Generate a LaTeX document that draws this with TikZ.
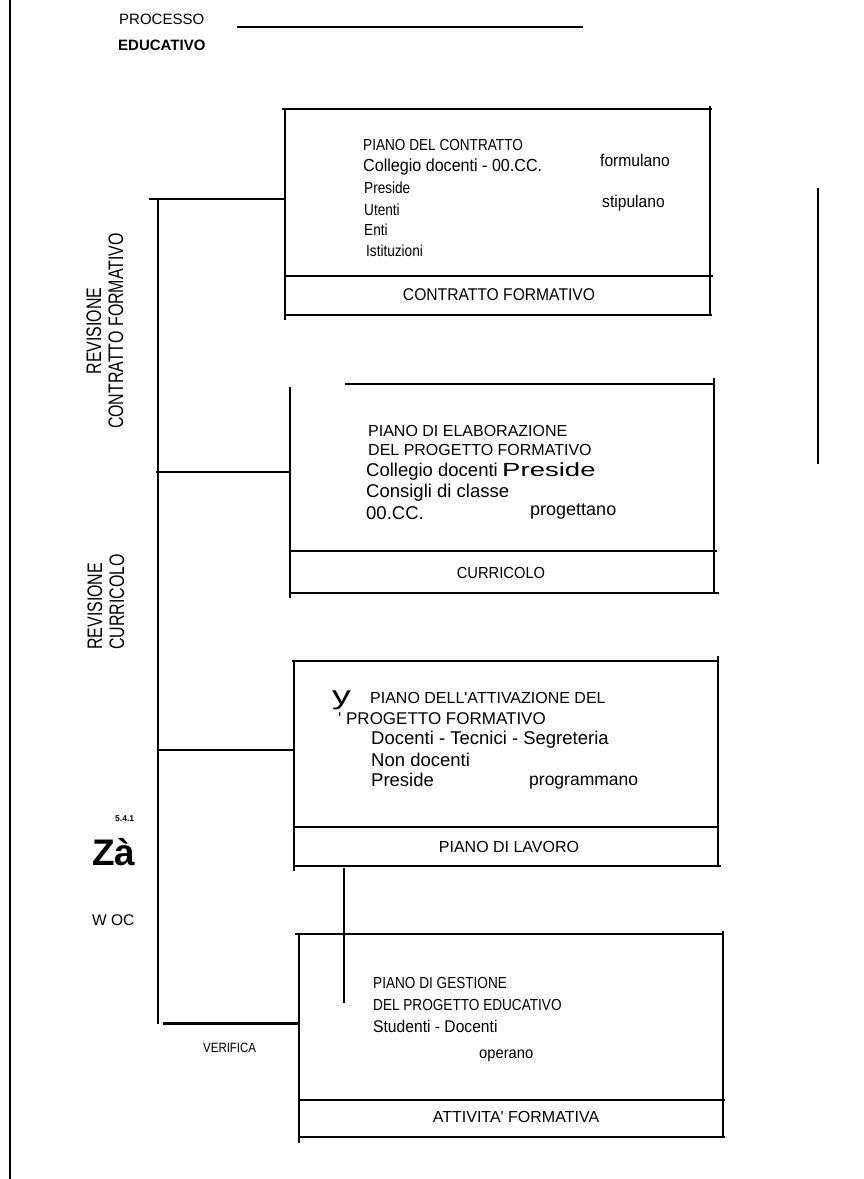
\documentclass[tikz,border=0pt]{standalone}
\usepackage{fontspec}
\setmainfont{Liberation Sans}
\newfontfamily\narrowfont[FakeStretch=0.85]{Liberation Sans}
\newfontfamily\midfont[FakeStretch=0.92]{Liberation Sans}
\newfontfamily\widefont[FakeStretch=1.45]{Liberation Sans}
\newfontfamily\revfont[FakeStretch=0.76]{Liberation Sans}
\tikzset{%
    ln/.style={line width=2pt},
    lnt/.style={line width=1.5pt},
    lnb/.style={line width=3pt},
    txt/.style={inner sep=0pt, anchor=base west},
    lab/.style={inner sep=0pt, anchor=center},
    tnr/.style={txt, font=\fontsize{#1}{#1}\selectfont},
    tna/.style={txt, font=\narrowfont\fontsize{#1}{#1}\selectfont},
    tmd/.style={txt, font=\midfont\fontsize{#1}{#1}\selectfont},
    tbf/.style={txt, font=\bfseries\fontsize{#1}{#1}\selectfont},
    rev/.style={inner sep=0pt, rotate=90, font=\revfont\fontsize{21}{22}\selectfont},
}

\begin{document}
\begin{tikzpicture}[x=1pt, y=-1pt]
    \useasboundingbox (0,0) rectangle (864,1179);
    \draw [ln] (10,0) -- (10,1179);
    % heading
    \draw node [tnr=15] (pro) at (119,24) {PROCESSO};
    \draw node [tbf=15] (edu) at (118,50) {EDUCATIVO};
    \coordinate (h0) at (237,27);
    \coordinate (h1) at (583,27);
    \draw [ln] (h0) -- (h1);
    % side labels
    \draw node [rev, align=center] (rv1) at (105,331) {REVISIONE\\CONTRATTO FORMATIVO};
    \draw node [rev, align=left, anchor=west] (rv2) at (106,650) {REVISIONE\\CURRICOLO};
    \draw node [tbf=8.5] (num) at (115,821) {5.4.1};
    \draw node [tbf=37] (za) at (92,865) {Zà};
    \draw node [tnr=15.5] (woc) at (92,925) {W OC};
    \draw node [tna=13.5] (ver) at (203,1052) {VERIFICA};

    % contratto
    \draw [ln] (282,109) -- (712,109);
    \draw [ln] (285,109) -- (285,320);
    \draw [ln] (710,106) -- (710,315);
    \draw [ln] (285,276) -- (713,276);
    \draw [ln] (285,315) -- (712,315);
    \draw node [tna=16] (c1) at (363,150) {PIANO DEL CONTRATTO};
    \draw node [tmd=17.5] (c2) at (363,171) {Collegio docenti - 00.CC.};
    \draw node [tmd=17] (c3) at (600,166) {formulano};
    \draw node [tna=16] (c4) at (364,193) {Preside};
    \draw node [tna=16] (c5) at (364,215) {Utenti};
    \draw node [tna=16] (c6) at (364,235) {Enti};
    \draw node [tna=16] (c7) at (366,256) {Istituzioni};
    \draw node [tmd=17] (c8) at (602,207) {stipulano};
    \draw node [lab, font=\midfont\fontsize{17}{17}\selectfont] (k1) at (499,295) {CONTRATTO FORMATIVO};

    % curricolo
    \draw [ln] (345,384) -- (715,384);
    \draw [ln] (290,387) -- (290,598);
    \draw [ln] (714,378) -- (714,594);
    \draw [ln] (290,551) -- (717,551);
    \draw [ln] (290,593) -- (719,593);
    \draw node [tnr=16] (e1) at (368,436) {PIANO DI ELABORAZIONE};
    \draw node [tnr=16] (e2) at (368,455) {DEL PROGETTO FORMATIVO};
    \draw node [tnr=18.5] (e3) at (366,476) {Collegio docenti};
    \draw node [txt, font=\widefont\fontsize{19}{19}\selectfont] (e4) at (502,476) {Preside};
    \draw node [tnr=18.5] (e5) at (366,497) {Consigli di classe};
    \draw node [tnr=18.5] (e6) at (366,519) {00.CC.};
    \draw node [tnr=18] (e7) at (530,515) {progettano};
    \draw node [lab, font=\midfont\fontsize{16}{16}\selectfont] (k2) at (501,573) {CURRICOLO};

    % piano di lavoro
    \draw [ln] (292,661) -- (719,661);
    \draw [ln] (294,661) -- (294,871);
    \draw [ln] (718,656) -- (718,867);
    \draw [ln] (294,827) -- (719,827);
    \draw [ln] (294,866) -- (721,866);
    \draw node [txt, font=\widefont\fontsize{26}{26}\selectfont] (a0) at (332,704) {y};
    \draw node [tnr=16] (a1) at (370,703) {PIANO DELL\textquotesingle ATTIVAZIONE DEL};
    \draw node [tnr=17] (a2) at (338,724) {\textquotesingle\ PROGETTO FORMATIVO};
    \draw node [tnr=18.5] (a3) at (371,744) {Docenti - Tecnici - Segreteria};
    \draw node [tnr=18.5] (a4) at (371,766) {Non docenti};
    \draw node [tnr=18.5] (a5) at (371,786) {Preside};
    \draw node [tnr=17.5] (a6) at (529,785) {programmano};
    \draw node [lab, font=\fontsize{16}{16}\selectfont] (k3) at (509,847) {PIANO DI LAVORO};

    % attivita'
    \draw [ln] (295,934) -- (724,934);
    \draw [ln] (299,935) -- (299,1143);
    \draw [ln] (723,931) -- (723,1137);
    \draw [ln] (299,1100) -- (725,1100);
    \draw [ln] (299,1137) -- (725,1137);
    \draw node [tna=16] (g1) at (373,988) {PIANO DI GESTIONE};
    \draw node [tna=16] (g2) at (373,1010) {DEL PROGETTO EDUCATIVO};
    \draw node [tmd=17] (g3) at (373,1032) {Studenti - Docenti};
    \draw node [tmd=16] (g4) at (479,1058) {operano};
    \draw node [lab, font=\fontsize{16}{16}\selectfont] (k4) at (516,1117) {ATTIVITA\textquotesingle\ FORMATIVA};

    % links
    \coordinate (e0) at (149,199);
    \coordinate (v0) at (158,199);
    \coordinate (v1) at (158,1024);
    \coordinate (v2) at (156,472);
    \coordinate (v3) at (159,750);
    \coordinate (v4) at (163,1023);
    \coordinate (w1) at (285,199);
    \coordinate (w2) at (290,472);
    \coordinate (w3) at (294,750);
    \coordinate (w4) at (299,1023);
    \coordinate (d0) at (344,868);
    \coordinate (d1) at (344,1003);
    \coordinate (q0) at (818,188);
    \coordinate (q1) at (818,464);
    \draw [ln] (e0) -- (w1);
    \draw [ln] (v0) -- (v1);
    \draw [ln] (v2) -- (w2);
    \draw [ln] (v3) -- (w3);
    \draw [lnb] (v4) -- (w4);
    \draw [ln] (d0) -- (d1);
    \draw [lnt] (q0) -- (q1);
\end{tikzpicture}
\end{document}
